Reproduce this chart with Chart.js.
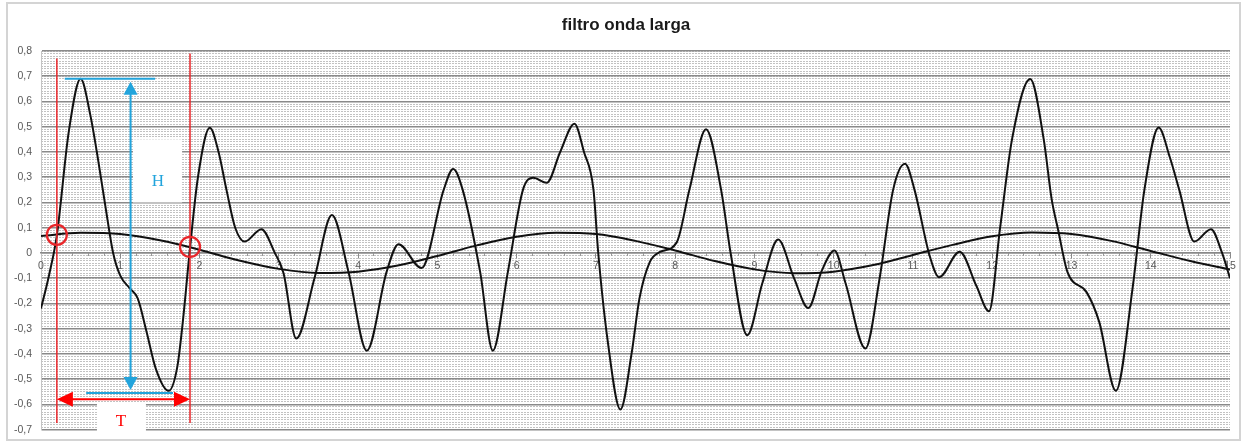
<!DOCTYPE html>
<html>
<head>
<meta charset="utf-8">
<script src="https://cdn.jsdelivr.net/npm/chart.js@4.4.1/dist/chart.umd.min.js"></script>
<style>
  body { margin: 0; background: #fff; }
  #wrap { position: relative; width: 1245px; height: 445px; }
  #frame { position: absolute; left: 6px; top: 2px; width: 1235px; height: 439px; border: 2px solid #d4d4d4; box-sizing: border-box; pointer-events: none; }
  canvas { position: absolute; left: 0; top: 0; }
</style>
</head>
<body>
<div id="wrap">
  <canvas id="chart" width="1245" height="445"></canvas>
  <div id="frame"></div>
</div>
<script>
// filtro onda larga — fast oscillation vs. long-wave filter, with H/T markup

const TITLE = 'filtro onda larga';

// fast (unfiltered) wave
const fastX = [0.00, 0.10, 0.20, 0.35, 0.50, 0.62, 0.72, 0.82, 0.91, 1.00,
  1.12, 1.22, 1.33, 1.45, 1.61, 1.72, 1.79, 1.88, 1.98, 2.13,
  2.24, 2.34, 2.45, 2.57, 2.78, 2.95, 3.06, 3.22, 3.45, 3.67,
  3.88, 4.11, 4.36, 4.51, 4.80, 5.08, 5.20, 5.32, 5.54, 5.70,
  5.89, 6.08, 6.21, 6.38, 6.55, 6.73, 6.85, 6.97, 7.03, 7.15,
  7.31, 7.45, 7.55, 7.68, 7.81, 8.02, 8.18, 8.39, 8.58, 8.70,
  8.91, 9.10, 9.30, 9.50, 9.68, 9.85, 10.01, 10.15, 10.40, 10.58,
  10.75, 10.90, 11.02, 11.21, 11.33, 11.59, 11.80, 11.96, 12.10, 12.25,
  12.48, 12.65, 12.75, 12.83, 12.95, 13.19, 13.35, 13.56, 13.77, 13.92,
  14.10, 14.24, 14.36, 14.55, 14.76, 14.90, 15.00];
const fastY = [-0.22, -0.09, 0.07, 0.48, 0.69, 0.55, 0.37, 0.17, 0.00, -0.09,
  -0.14, -0.18, -0.31, -0.46, -0.546, -0.45, -0.27, 0.02, 0.30, 0.496,
  0.40, 0.25, 0.10, 0.045, 0.094, 0.00, -0.08, -0.339, -0.10, 0.15,
  -0.076, -0.387, -0.075, 0.035, -0.06, 0.25, 0.333, 0.25, -0.075, -0.387,
  -0.075, 0.25, 0.298, 0.278, 0.40, 0.512, 0.40, 0.25, 0.00, -0.35,
  -0.62, -0.40, -0.18, -0.036, 0.004, 0.042, 0.25, 0.49, 0.25, 0.00,
  -0.326, -0.12, 0.053, -0.10, -0.218, -0.07, 0.01, -0.12, -0.378, -0.10,
  0.25, 0.353, 0.25, -0.01, -0.096, 0.005, -0.13, -0.231, 0.10, 0.45,
  0.689, 0.45, 0.213, 0.094, -0.076, -0.155, -0.273, -0.546, -0.142, 0.25,
  0.497, 0.38, 0.25, 0.045, 0.094, 0.00, -0.10];

// long wave (filter output)
const slowX = [0, 0.5, 1, 1.5, 2, 2.5, 3, 3.5, 4, 4.5, 5, 5.5, 6, 6.5, 7, 7.5,
  8, 8.5, 9, 9.5, 10, 10.5, 11, 11.5, 12, 12.5, 13, 13.5, 14, 14.5, 15];
const slowY = [0.067, 0.080, 0.075, 0.050, 0.013, -0.030, -0.063, -0.079, -0.074, -0.050,
  -0.012, 0.030, 0.064, 0.080, 0.075, 0.048, 0.010, -0.032, -0.065, -0.080,
  -0.074, -0.048, -0.008, 0.032, 0.066, 0.081, 0.075, 0.048, 0.008, -0.032, -0.066];

const xMin = 0, xMax = 15;
const yMin = -0.7, yMax = 0.8;

// markup in data units
const crossX = [0.2, 1.88];
const crossY = [0.072, 0.024];
const periodTop = [0.77, 0.79];
const periodBottom = -0.673;
const hTopY = 0.69, hBottomY = -0.555, hX = 1.13;
const hTopSpan = [0.30, 1.44], hBottomSpan = [0.57, 1.665];
const tArrowY = -0.579;

const RED = '#e8262a';
const CYAN = '#22a4dc';
const TICK_COLOR = '#595959';

function commaLabel(v) {
  if (Math.abs(v) < 1e-9) return '0';
  return v.toFixed(1).replace('.', ',');
}

function arrowHead(ctx, tipX, tipY, dx, dy, len, half) {
  // dx,dy: unit direction the tip points to
  const bx = tipX - dx * len, by = tipY - dy * len;
  ctx.beginPath();
  ctx.moveTo(tipX, tipY);
  ctx.lineTo(bx - dy * half, by + dx * half);
  ctx.lineTo(bx + dy * half, by - dx * half);
  ctx.closePath();
  ctx.fill();
}

const markup = {
  id: 'markup',
  afterDraw(chart) {
    const { ctx } = chart;
    const x = chart.scales.x, y = chart.scales.y;
    const px = v => x.getPixelForValue(v);
    const py = v => y.getPixelForValue(v);
    ctx.save();

    // title
    ctx.fillStyle = '#1a1a1a';
    ctx.font = 'bold 17px "Liberation Sans", Arial, sans-serif';
    ctx.textAlign = 'center';
    ctx.textBaseline = 'middle';
    ctx.fillText(TITLE, 626, 25);

    // white label boxes
    ctx.fillStyle = '#fff';
    ctx.fillRect(px(1.16), py(0.45), px(1.78) - px(1.16), py(0.20) - py(0.45));
    ctx.fillRect(px(0.706), py(-0.594), px(1.324) - px(0.706), 440 - py(-0.594));

    // red period lines
    ctx.strokeStyle = RED;
    ctx.lineWidth = 1.5;
    crossX.forEach((cx, i) => {
      ctx.beginPath();
      ctx.moveTo(px(cx), py(periodTop[i]));
      ctx.lineTo(px(cx), py(periodBottom));
      ctx.stroke();
    });

    // crossing circles
    ctx.lineWidth = 2.2;
    crossX.forEach((cx, i) => {
      ctx.beginPath();
      ctx.arc(px(cx), py(crossY[i]), 10, 0, Math.PI * 2);
      ctx.stroke();
    });

    // T double arrow
    ctx.strokeStyle = '#ff0000';
    ctx.fillStyle = '#ff0000';
    ctx.lineWidth = 2;
    const ty = py(tArrowY);
    ctx.beginPath();
    ctx.moveTo(px(crossX[0]) + 10, ty);
    ctx.lineTo(px(crossX[1]) - 10, ty);
    ctx.stroke();
    arrowHead(ctx, px(crossX[0]), ty, -1, 0, 16, 7.5);
    arrowHead(ctx, px(crossX[1]), ty, 1, 0, 16, 7.5);

    // H markup
    ctx.strokeStyle = CYAN;
    ctx.fillStyle = CYAN;
    ctx.lineWidth = 2;
    ctx.beginPath();
    ctx.moveTo(px(hTopSpan[0]), py(hTopY));
    ctx.lineTo(px(hTopSpan[1]), py(hTopY));
    ctx.moveTo(px(hBottomSpan[0]), py(hBottomY));
    ctx.lineTo(px(hBottomSpan[1]), py(hBottomY));
    ctx.stroke();
    const hx = px(hX);
    ctx.beginPath();
    ctx.moveTo(hx, py(hTopY) + 12);
    ctx.lineTo(hx, py(hBottomY) - 14);
    ctx.stroke();
    arrowHead(ctx, hx, py(hTopY) + 3, 0, -1, 13, 7);
    arrowHead(ctx, hx, py(hBottomY) - 3, 0, 1, 13, 7);

    // letters
    ctx.font = '17px "Liberation Serif", "DejaVu Serif", serif';
    ctx.fillStyle = CYAN;
    ctx.fillText('H', px(1.475), py(0.283));
    ctx.fillStyle = '#ff0000';
    ctx.fillText('T', px(1.01), py(-0.669));

    ctx.restore();
  }
};

const toPoints = (xs, ys) => xs.map((v, i) => ({ x: v, y: ys[i] }));

new Chart(document.getElementById('chart'), {
  type: 'line',
  data: {
    datasets: [
      {
        label: 'onda',
        data: toPoints(fastX, fastY),
        borderColor: '#111',
        borderWidth: 2,
        pointRadius: 0,
        cubicInterpolationMode: 'monotone',
        fill: false,
      },
      {
        label: 'filtro',
        data: toPoints(slowX, slowY),
        borderColor: '#111',
        borderWidth: 2,
        pointRadius: 0,
        cubicInterpolationMode: 'monotone',
        fill: false,
      },
    ],
  },
  options: {
    responsive: false,
    animation: false,
    layout: { padding: { top: 51, right: 15, bottom: 13, left: 0 } },
    plugins: {
      legend: { display: false },
      tooltip: { enabled: false },
      title: { display: false },
    },
    scales: {
      ym: {
        type: 'linear',
        position: 'left',
        min: yMin,
        max: yMax,
        afterFit: s => { s.width = 0; },
        ticks: { stepSize: 0.01, display: false, autoSkip: false },
        grid: { color: '#c2c2c2', lineWidth: 1, drawTicks: false },
        border: { display: false, dash: [2, 1] },
      },
      y: {
        type: 'linear',
        position: 'left',
        min: yMin,
        max: yMax,
        afterFit: s => { s.width = 41; },
        ticks: {
          stepSize: 0.1,
          color: TICK_COLOR,
          padding: 9,
          font: { family: '"Liberation Sans", Arial, sans-serif', size: 10.5 },
          callback: v => commaLabel(v),
        },
        grid: { color: '#8a8a8a', lineWidth: 1.5, drawTicks: false },
        border: { color: '#c4c4c4', width: 1 },
      },
      xm: {
        type: 'linear',
        position: { y: 0 },
        min: xMin,
        max: xMax,
        ticks: { stepSize: 0.2, autoSkip: false, callback: () => '' },
        grid: { drawOnChartArea: false, color: '#9a9a9a', tickLength: 3 },
        border: { display: false },
      },
      x: {
        type: 'linear',
        position: { y: 0 },
        min: xMin,
        max: xMax,
        ticks: {
          stepSize: 1,
          color: TICK_COLOR,
          padding: 2,
          font: { family: '"Liberation Sans", Arial, sans-serif', size: 10.5 },
        },
        grid: { drawOnChartArea: false, color: '#8a8a8a', tickLength: 5 },
        border: { color: '#8a8a8a', width: 1.5 },
      },
    },
  },
  plugins: [markup],
});
</script>
</body>
</html>
